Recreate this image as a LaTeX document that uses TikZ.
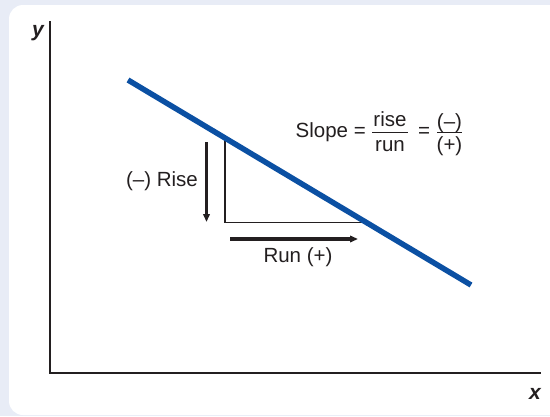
\documentclass[tikz,border=0pt]{standalone}
\usepackage{fontspec}
\setmainfont{Liberation Sans}
\usetikzlibrary{arrows.meta}
\definecolor{bgout}{HTML}{E8ECF6}
\definecolor{lineblue}{HTML}{0B50A3}
\definecolor{axisc}{HTML}{231F20}
\tikzset{
  lbl/.style={inner sep=0pt, font=\fontsize{20.5}{24}\selectfont, text=axisc},
  axislbl/.style={inner sep=0pt, font=\fontsize{21}{24}\selectfont\bfseries\itshape, text=axisc},
  axisline/.style={draw=axisc, line width=2.6pt},
  bluel/.style={draw=lineblue, line width=5.5pt},
  tri/.style={draw=axisc, line width=1.3pt},
  thickarrow/.style={draw=axisc, line width=3.6pt, -{Triangle[length=8pt,width=6.5pt]}},
  fracbar/.style={draw=axisc, line width=1.1pt}
}
\begin{document}
\begin{tikzpicture}[x=1pt,y=-1pt]
\useasboundingbox (0,0) rectangle (550,416);
\fill[bgout] (0,0) rectangle (550,416);
\fill[white, rounded corners=14pt] (9,5) rectangle (580,415);
% axes
\coordinate (O) at (50,373);
\coordinate (ytop) at (50,21);
\coordinate (xend) at (541,373);
\draw[axisline] (ytop) -- (O) -- (xend);
\node[axislbl, anchor=base] (ylab) at (38,36) {y};
\node[axislbl, anchor=base] (xlab) at (535,399) {x};
% triangle
\coordinate (tA) at (225,139);
\coordinate (tB) at (225,222.5);
\coordinate (tC) at (363,222.5);
\draw[tri] (tA) -- (tB) -- (tC);
% blue line
\coordinate (L1) at (128,80);
\coordinate (L2) at (471,285);
\draw[bluel] (L1) -- (L2);
% arrows
\coordinate (r1) at (206.5,142);
\coordinate (r2) at (206.5,222);
\draw[thickarrow] (r1) -- (r2);
\coordinate (u1) at (230,239);
\coordinate (u2) at (358,239);
\draw[thickarrow] (u1) -- (u2);
\node[lbl, anchor=base east] (rise) at (198,186) {(–) Rise};
\node[lbl, anchor=base] (run) at (298,262) {Run (+)};
% slope formula
\node[lbl, anchor=base east] (slope) at (366,137) {Slope =};
\node[lbl, anchor=base] (num1) at (390,126) {rise};
\node[lbl, anchor=base] (den1) at (390,151) {run};
\coordinate (b1a) at (372,132.5);
\coordinate (b1b) at (408,132.5);
\draw[fracbar] (b1a) -- (b1b);
\node[lbl, anchor=base] (eq2) at (424,137) {=};
\node[lbl, anchor=base] (num2) at (449.5,128) {(–)};
\node[lbl, anchor=base] (den2) at (449.5,151) {(+)};
\coordinate (b2a) at (437,132.5);
\coordinate (b2b) at (462,132.5);
\draw[fracbar] (b2a) -- (b2b);
\end{tikzpicture}
\end{document}
